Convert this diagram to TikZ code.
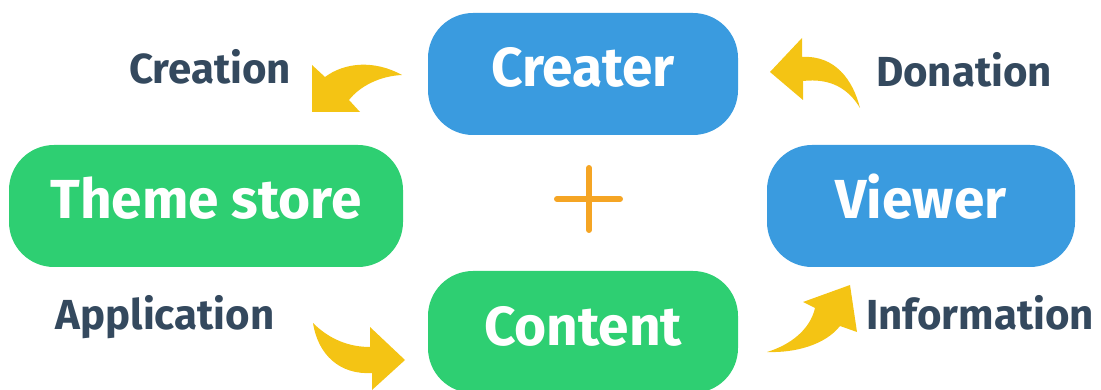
\documentclass[tikz,border=0pt]{standalone}
\usepackage{fontspec}
\setmainfont{Fira Sans}
\usepackage{tikz}
\usetikzlibrary{positioning}

\definecolor{boxblue}{HTML}{3A9BDF}
\definecolor{boxgreen}{HTML}{2ECF72}
\definecolor{labelgray}{HTML}{34495E}
\definecolor{arrowyellow}{HTML}{F4C414}
\definecolor{plusorange}{HTML}{F5A524}

\begin{document}
\begin{tikzpicture}[x=1pt,y=-1pt]
\tikzstyle{every node}+=[inner sep=0pt]
\tikzstyle{box}=[rounded corners=45pt, minimum height=122pt, text=white,
  font=\fontsize{55}{60}\selectfont\bfseries, text height=38pt, text depth=12pt]
\tikzstyle{lbl}=[text=labelgray, font=\fontsize{42}{46}\selectfont\bfseries,
  text height=29pt, text depth=0pt]
\useasboundingbox (0,0) rectangle (1101,390);
% the four boxes
\node [box, fill=boxblue, minimum width=310pt] (creater) at (583,74) {Creater};
\node [box, fill=boxgreen, minimum width=394pt] (theme) at (206,206) {Theme store};
\node [box, fill=boxblue, minimum width=308pt] (viewer) at (921,206) {Viewer};
\node [box, fill=boxgreen, minimum width=310pt] (content) at (583,332) {Content};
% labels
\node [lbl] (creation) at (210,69) {Creation};
\node [lbl] (donation) at (964,72) {Donation};
\node [lbl] (application) at (165,315) {Application};
\node [lbl] (information) at (980,315) {Information};
% plus sign
\draw [plusorange, line width=6pt, line cap=round] (589,168) -- (589,230);
\draw [plusorange, line width=6pt, line cap=round] (557,199) -- (620,199);
% curved arrows
\fill [arrowyellow] (402,75) .. controls (375,60) and (345,62) .. (325,77)
  -- (312,65) -- (312,112) -- (360,112) -- (349,100)
  .. controls (360,86) and (380,76) .. (402,75) -- cycle;
\fill [arrowyellow] (770,72) -- (802,38) -- (802,57)
  .. controls (835,55) and (853,80) .. (860,108)
  .. controls (848,88) and (830,78) .. (803,81) -- (803,100) -- cycle;
\fill [arrowyellow] (313,323) .. controls (330,340) and (350,347) .. (370,347)
  -- (370,327) -- (405,360) -- (372,390) -- (372,373)
  .. controls (340,375) and (318,355) .. (313,323) -- cycle;
\fill [arrowyellow] (767,352) .. controls (790,345) and (810,330) .. (815,308)
  -- (803,302) -- (850,285) -- (857,332) -- (840,326)
  .. controls (825,345) and (795,353) .. (767,352) -- cycle;
\end{tikzpicture}
\end{document}
